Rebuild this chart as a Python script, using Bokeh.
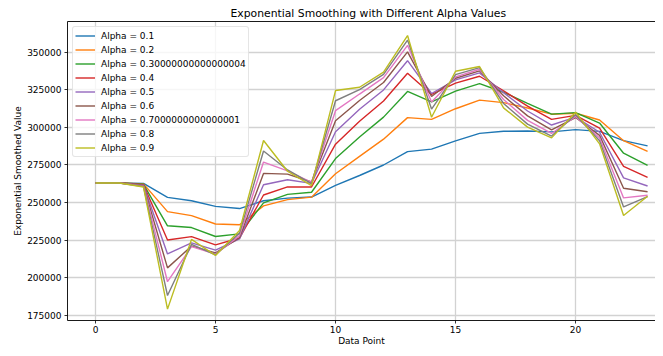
from bokeh.plotting import figure
from bokeh.models import (Range1d, FixedTicker, BasicTickFormatter, LinearAxis,
                          Legend, LegendItem, ColumnDataSource)
from bokeh.embed import file_html
from bokeh.resources import INLINE

# ---- data ----
data_points = list(range(24))
observed = [263000, 263000, 260000, 170000, 230600, 213500, 233200, 297900,
            268500, 260200, 331500, 326900, 337800, 363800, 300700, 340750,
            340850, 309900, 298700, 292200, 312000, 286700, 236000, 255600]
alphas = [0.1, 0.2, 0.30000000000000004, 0.4, 0.5, 0.6, 0.7000000000000001, 0.8, 0.9]
labels = ["Alpha = 0.1", "Alpha = 0.2", "Alpha = 0.30000000000000004",
          "Alpha = 0.4", "Alpha = 0.5", "Alpha = 0.6",
          "Alpha = 0.7000000000000001", "Alpha = 0.8", "Alpha = 0.9"]
colors = ["#1f77b4", "#ff7f0e", "#2ca02c", "#d62728", "#9467bd",
          "#8c564b", "#e377c2", "#7f7f7f", "#bcbd22"]
x_ticks = [0, 5, 10, 15, 20]
y_ticks = [175000, 200000, 225000, 250000, 275000, 300000, 325000, 350000]

FONT = "DejaVu Sans"

p = figure(width=655, height=348, output_backend="svg", toolbar_location=None,
           x_range=Range1d(-1.1667, 23.33), y_range=Range1d(171470, 370430),
           min_border_left=67, min_border_right=0, min_border_bottom=26,
           min_border_top=21,
           title="Exponential Smoothing with Different Alpha Values")
p.outline_line_color = None
p.background_fill_color = "white"
p.border_fill_color = "white"

p.title.text_font = FONT
p.title.text_font_size = "10.8px"
p.title.text_font_style = "normal"
p.title.text_color = "black"
p.title.align = "left"
p.title.offset = 163
p.title.standoff = 4

# axes
for ax in (p.xaxis, p.yaxis):
    ax.axis_line_color = "black"
    ax.axis_line_width = 0.9
    ax.major_tick_line_color = "black"
    ax.major_tick_line_width = 0.8
    ax.major_tick_out = 3
    ax.major_tick_in = 0
    ax.minor_tick_out = 0
    ax.minor_tick_in = 0
    ax.major_label_text_font = FONT
    ax.major_label_text_font_size = "9px"
    ax.major_label_text_color = "black"
    ax.axis_label_text_font = FONT
    ax.axis_label_text_font_size = "9px"
    ax.axis_label_text_font_style = "normal"
    ax.axis_label_text_color = "black"

p.xaxis.ticker = FixedTicker(ticks=x_ticks)
p.yaxis.ticker = FixedTicker(ticks=y_ticks)
p.yaxis.formatter = BasicTickFormatter(use_scientific=False)
p.xaxis.axis_label = "Data Point"
p.yaxis.axis_label = "Exponential Smoothed Value"
p.xaxis.major_label_standoff = 2
p.yaxis.major_label_standoff = 3
p.xaxis.axis_label_standoff = 0
p.yaxis.axis_label_standoff = 1

# top spine
top = LinearAxis(ticker=FixedTicker(ticks=[]), major_label_text_font_size="0px",
                 major_tick_out=0, major_tick_in=0, minor_tick_out=0, minor_tick_in=0,
                 axis_line_color="black", axis_line_width=0.9,
                 major_label_standoff=0)
p.add_layout(top, "above")

# grid
p.xgrid.ticker = FixedTicker(ticks=x_ticks)
p.ygrid.ticker = FixedTicker(ticks=y_ticks)
for g in (p.xgrid, p.ygrid):
    g.grid_line_color = "#d2d2d2"
    g.grid_line_width = 1.3

# smoothed series (simple exponential smoothing of the observed values)
items = []
for a, lab, col in zip(alphas, labels, colors):
    s = [observed[0]]
    for v in observed[1:]:
        s.append(a * v + (1 - a) * s[-1])
    src = ColumnDataSource(dict(x=data_points, y=s))
    r = p.line("x", "y", source=src, line_color=col, line_width=1.4)
    items.append(LegendItem(label=lab, renderers=[r]))

legend = Legend(items=items, location="top_left")
legend.margin = 5
legend.padding = 2
legend.spacing = 1
legend.glyph_width = 20
legend.glyph_height = 13
legend.label_height = 13
legend.label_standoff = 6
legend.label_text_font = FONT
legend.label_text_font_size = "9px"
legend.label_text_color = "black"
legend.border_line_color = "#cccccc"
legend.border_line_width = 1
legend.background_fill_color = "white"
legend.background_fill_alpha = 0.8
try:
    legend.border_radius = 3
except Exception:
    pass
p.add_layout(legend)

open("out.html", "w").write(file_html(p, INLINE))
